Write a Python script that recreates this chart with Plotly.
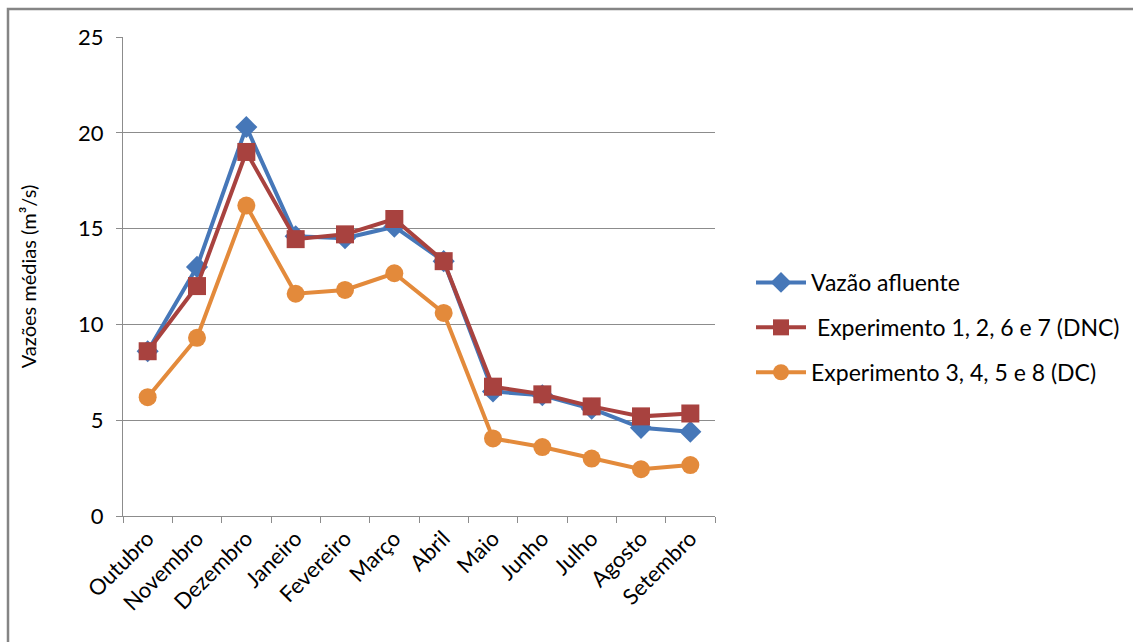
import plotly.graph_objects as go

meses = ["Outubro", "Novembro", "Dezembro", "Janeiro", "Fevereiro", "Março",
         "Abril", "Maio", "Junho", "Julho", "Agosto", "Setembro"]

vazao_afluente = [8.6, 13.0, 20.3, 14.6, 14.5, 15.1, 13.3, 6.5, 6.3, 5.6, 4.6, 4.4]
exp_dnc = [8.6, 12.0, 19.0, 14.45, 14.7, 15.5, 13.3, 6.75, 6.35, 5.72, 5.2, 5.35]
exp_dc = [6.2, 9.3, 16.2, 11.6, 11.8, 12.67, 10.6, 4.05, 3.6, 3.0, 2.44, 2.66]

nomes = ["Vazão afluente", " Experimento 1, 2, 6 e 7 (DNC)", "Experimento 3, 4, 5 e 8 (DC)"]
cores = ["#4677B8", "#A8423F", "#E38A3B"]
simbolos = ["diamond", "square", "circle"]
tamanhos = [17, 18, 18]

W, H = 1133, 642
L, R, T, B = 123, 418, 37, 126
pw, ph = W - L - R, H - T - B

fig = go.Figure()
for i, serie in enumerate([vazao_afluente, exp_dnc, exp_dc]):
    fig.add_trace(go.Scatter(
        x=meses, y=serie, name=nomes[i], mode="lines+markers",
        line=dict(color=cores[i], width=4),
        marker=dict(symbol=simbolos[i], size=tamanhos[i], color=cores[i]),
        legendgroup=f"g{i}",
    ))

# outer frame around the chart area
def px_to_paper_x(px):
    return (px - L) / pw

def px_to_paper_y(py):
    return (H - B - py) / ph

fig.add_shape(type="rect", xref="paper", yref="paper",
              x0=px_to_paper_x(8), x1=px_to_paper_x(W + 10),
              y0=px_to_paper_y(H + 10), y1=px_to_paper_y(9),
              line=dict(color="#858585", width=2.5), fillcolor="rgba(0,0,0,0)",
              layer="below")

fig.update_layout(
    width=W, height=H,
    margin=dict(l=L, r=R, t=T, b=B, autoexpand=False),
    paper_bgcolor="white", plot_bgcolor="white",
    font=dict(family="Lato, Open Sans, sans-serif", color="#000000"),
    legend=dict(xref="container", yref="container",
                x=751 / W, y=1 - 261 / H, xanchor="left", yanchor="top",
                font=dict(size=23, family="Lato, Open Sans, sans-serif"),
                itemwidth=50, tracegroupgap=12, bgcolor="rgba(0,0,0,0)"),
    showlegend=True,
)

fig.update_xaxes(
    type="category", showgrid=False, showline=True, linecolor="#8C8C8C", linewidth=1,
    ticks="outside", tickson="boundaries", ticklen=6, tickcolor="#8C8C8C",
    tickangle=-45, tickfont=dict(size=22), range=[-0.5, 11.5], automargin=False,
)
fig.update_yaxes(
    range=[0, 25], tickvals=[0, 5, 10, 15, 20, 25], showgrid=True, gridcolor="#8C8C8C",
    gridwidth=1, showline=True, linecolor="#8C8C8C", linewidth=1,
    ticks="outside", ticklen=6, tickcolor="#8C8C8C", zeroline=False,
    tickfont=dict(size=22), ticklabelstandoff=8, automargin=False,
    title=dict(text="Vazões médias (m³/s)", font=dict(size=20), standoff=36),
)

fig.write_html("out.html")
